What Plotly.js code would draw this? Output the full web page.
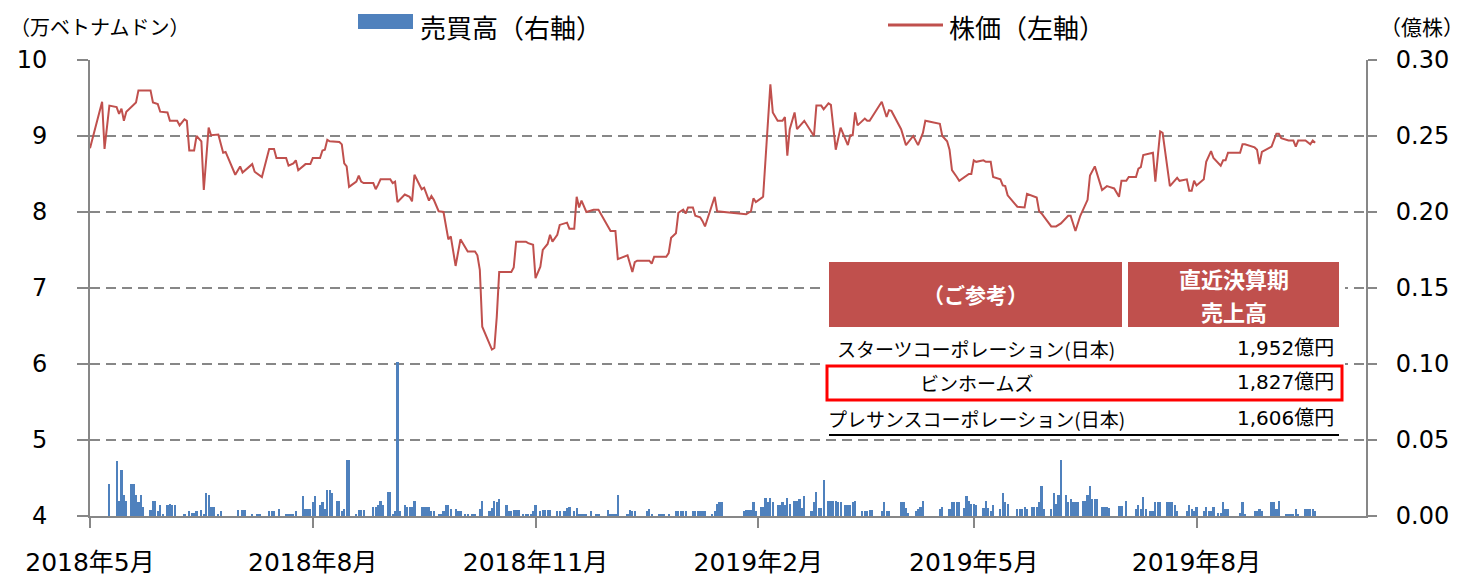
<!DOCTYPE html>
<html>
<head>
<meta charset="utf-8">
<script src="https://cdn.plot.ly/plotly-3.0.1.min.js"></script>
<style>
  html, body { margin: 0; padding: 0; background: #ffffff; }
  #chart { width: 1467px; height: 577px; }
</style>
</head>
<body>
<div id="chart"></div>
<script>
// ---- Price (left axis, 万ベトナムドン) ----
const priceDates = [
'2018-05-01','2018-05-06','2018-05-07','2018-05-09','2018-05-12','2018-05-13','2018-05-14','2018-05-15','2018-05-16','2018-05-19','2018-05-20','2018-05-21','2018-05-26','2018-05-27','2018-05-29','2018-05-30',
'2018-06-02','2018-06-03','2018-06-06','2018-06-07','2018-06-09','2018-06-10','2018-06-11','2018-06-13','2018-06-14','2018-06-16','2018-06-17','2018-06-19','2018-06-20','2018-06-23','2018-06-25','2018-06-26','2018-06-30',
'2018-07-02','2018-07-03','2018-07-07','2018-07-08','2018-07-11','2018-07-14','2018-07-16','2018-07-17','2018-07-21','2018-07-22','2018-07-24','2018-07-25','2018-07-26','2018-07-29','2018-07-31',
'2018-08-01','2018-08-04','2018-08-05','2018-08-06','2018-08-07','2018-08-08','2018-08-12','2018-08-13','2018-08-14','2018-08-15','2018-08-16','2018-08-19','2018-08-20','2018-08-21','2018-08-22','2018-08-26','2018-08-27','2018-08-28','2018-08-29',
'2018-09-02','2018-09-03','2018-09-04','2018-09-05','2018-09-08','2018-09-10','2018-09-11','2018-09-12','2018-09-15','2018-09-16','2018-09-18','2018-09-19','2018-09-20','2018-09-22','2018-09-24','2018-09-26','2018-09-27','2018-09-29',
'2018-10-01','2018-10-03','2018-10-04','2018-10-07','2018-10-08','2018-10-09','2018-10-10','2018-10-14','2018-10-15','2018-10-16','2018-10-17','2018-10-22','2018-10-23','2018-10-24','2018-10-28','2018-10-29','2018-10-31',
'2018-11-01','2018-11-03','2018-11-04','2018-11-06','2018-11-07','2018-11-08','2018-11-10','2018-11-11','2018-11-14','2018-11-15','2018-11-17','2018-11-18','2018-11-19','2018-11-20','2018-11-22','2018-11-25','2018-11-27',
'2018-12-02','2018-12-04','2018-12-05','2018-12-09','2018-12-11','2018-12-12','2018-12-13','2018-12-18','2018-12-19','2018-12-20','2018-12-25','2018-12-26','2018-12-27','2018-12-29','2018-12-30',
'2019-01-01','2019-01-02','2019-01-03','2019-01-05','2019-01-06','2019-01-08','2019-01-09','2019-01-10','2019-01-14','2019-01-15','2019-01-27','2019-01-29','2019-01-30','2019-01-31',
'2019-02-03','2019-02-06','2019-02-07','2019-02-09','2019-02-11','2019-02-12','2019-02-13','2019-02-14','2019-02-16','2019-02-17','2019-02-20','2019-02-24','2019-02-25','2019-02-27','2019-02-28',
'2019-03-02','2019-03-03','2019-03-05','2019-03-07','2019-03-10','2019-03-11','2019-03-12','2019-03-13','2019-03-14','2019-03-17','2019-03-18','2019-03-19','2019-03-24','2019-03-26','2019-03-27','2019-03-28',
'2019-04-01','2019-04-03','2019-04-06','2019-04-08','2019-04-10','2019-04-11','2019-04-17','2019-04-18','2019-04-20','2019-04-21','2019-04-22','2019-04-24','2019-04-25','2019-04-29','2019-04-30',
'2019-05-01','2019-05-02','2019-05-05','2019-05-06','2019-05-08','2019-05-09','2019-05-12','2019-05-13','2019-05-14','2019-05-15','2019-05-19','2019-05-22','2019-05-23','2019-05-25','2019-05-27','2019-05-28','2019-05-29',
'2019-06-02','2019-06-04','2019-06-06','2019-06-09','2019-06-10','2019-06-12','2019-06-14','2019-06-16','2019-06-17','2019-06-18','2019-06-20','2019-06-23','2019-06-25','2019-06-26','2019-06-28','2019-06-30',
'2019-07-01','2019-07-03','2019-07-04','2019-07-07','2019-07-08','2019-07-09','2019-07-10','2019-07-14','2019-07-15','2019-07-17','2019-07-18','2019-07-21','2019-07-23','2019-07-24','2019-07-25','2019-07-28','2019-07-29','2019-07-30','2019-07-31',
'2019-08-01','2019-08-04','2019-08-05','2019-08-07','2019-08-08','2019-08-11','2019-08-12','2019-08-13','2019-08-14','2019-08-19','2019-08-20','2019-08-21','2019-08-25','2019-08-26','2019-08-27','2019-08-28',
'2019-09-01','2019-09-03','2019-09-04','2019-09-05','2019-09-08','2019-09-10','2019-09-11','2019-09-12','2019-09-15','2019-09-17','2019-09-18','2019-09-19'
];
const priceValues = [
8.84,9.45,8.83,9.40,9.38,9.29,9.36,9.20,9.32,9.42,9.44,9.60,9.60,9.44,9.42,9.32,
9.31,9.20,9.20,9.14,9.22,9.20,8.81,8.81,9.00,8.93,8.29,9.11,9.01,9.02,8.78,8.79,8.49,
8.60,8.52,8.63,8.53,8.46,8.83,8.83,8.71,8.71,8.61,8.64,8.68,8.55,8.63,8.63,
8.71,8.71,8.81,8.82,8.95,8.93,8.92,8.89,8.64,8.60,8.33,8.40,8.48,8.40,8.38,8.38,8.30,8.36,8.43,
8.43,8.38,8.40,8.13,8.23,8.20,8.14,8.49,8.30,8.32,8.15,8.21,8.16,8.01,8.00,7.64,7.68,7.29,
7.64,7.52,7.48,7.48,7.43,7.24,6.49,6.19,6.21,6.62,7.21,7.21,7.27,7.61,7.61,7.59,7.57,
7.13,7.28,7.50,7.58,7.70,7.61,7.70,7.83,7.86,7.78,7.78,8.20,8.06,8.15,8.00,8.03,8.03,
7.75,7.75,7.38,7.43,7.21,7.34,7.36,7.36,7.32,7.41,7.41,7.46,7.66,7.72,7.99,
8.03,7.98,8.06,8.06,7.95,7.93,7.88,7.81,8.20,8.01,7.97,8.01,8.18,8.13,
8.20,9.68,9.31,9.20,9.20,9.25,8.74,9.09,9.31,9.09,9.20,9.00,9.40,9.40,9.35,
9.43,9.41,8.82,9.11,8.88,9.01,9.01,9.31,9.14,9.23,9.20,9.20,9.45,9.25,9.34,9.33,
9.09,8.88,9.00,8.88,9.04,9.20,9.16,9.00,8.93,8.82,8.55,8.46,8.41,8.50,8.50,
8.68,8.66,8.68,8.66,8.66,8.46,8.43,8.35,8.34,8.22,8.07,8.06,8.24,8.22,8.19,8.01,7.98,
7.81,7.81,7.85,7.95,7.95,7.75,7.95,8.09,8.16,8.48,8.60,8.29,8.34,8.33,8.31,8.20,
8.41,8.41,8.46,8.46,8.57,8.59,8.75,8.78,8.40,9.06,9.04,8.34,8.41,8.45,8.41,8.43,8.28,8.28,8.41,
8.35,8.43,8.66,8.80,8.71,8.61,8.68,8.68,8.78,8.78,8.89,8.89,8.85,8.82,8.63,8.79,
8.86,9.03,9.03,8.97,8.94,8.94,8.86,8.94,8.94,8.89,8.94,8.91
];

// ---- Trading volume (right axis, 億株) ----
const volDates = [
'2018-05-09','2018-05-12','2018-05-13','2018-05-14','2018-05-15','2018-05-16','2018-05-18','2018-05-19','2018-05-20','2018-05-21','2018-05-22','2018-05-23','2018-05-26','2018-05-27','2018-05-28','2018-05-29','2018-05-30','2018-05-31',
'2018-06-02','2018-06-03','2018-06-04','2018-06-05','2018-06-09','2018-06-11','2018-06-12','2018-06-13','2018-06-14','2018-06-16','2018-06-17','2018-06-18','2018-06-19','2018-06-20','2018-06-21','2018-06-23','2018-06-24',
'2018-07-01','2018-07-03','2018-07-04','2018-07-07','2018-07-09','2018-07-10','2018-07-14','2018-07-15','2018-07-16','2018-07-18','2018-07-21','2018-07-22','2018-07-23','2018-07-24','2018-07-25','2018-07-28','2018-07-29','2018-07-30','2018-07-31',
'2018-08-01','2018-08-02','2018-08-04','2018-08-05','2018-08-06','2018-08-07','2018-08-08','2018-08-09','2018-08-11','2018-08-12','2018-08-13','2018-08-14','2018-08-15','2018-08-16','2018-08-19','2018-08-20','2018-08-21','2018-08-22','2018-08-26','2018-08-27','2018-08-28','2018-08-29','2018-08-30',
'2018-09-01','2018-09-02','2018-09-03','2018-09-04','2018-09-05','2018-09-06','2018-09-08','2018-09-09','2018-09-10','2018-09-11','2018-09-12','2018-09-15','2018-09-16','2018-09-17','2018-09-18','2018-09-19','2018-09-20','2018-09-22','2018-09-23','2018-09-24','2018-09-25','2018-09-26','2018-09-27','2018-09-29','2018-09-30',
'2018-10-01','2018-10-03','2018-10-04','2018-10-06','2018-10-07','2018-10-09','2018-10-10','2018-10-13','2018-10-14','2018-10-15','2018-10-16','2018-10-17','2018-10-20','2018-10-21','2018-10-22','2018-10-23','2018-10-24','2018-10-25','2018-10-27','2018-10-28','2018-10-29','2018-10-30','2018-10-31',
'2018-11-01','2018-11-03','2018-11-04','2018-11-05','2018-11-06','2018-11-07','2018-11-10','2018-11-11','2018-11-13','2018-11-14','2018-11-15','2018-11-17','2018-11-18','2018-11-19','2018-11-20','2018-11-21','2018-11-22','2018-11-24','2018-11-26','2018-11-27',
'2018-12-01','2018-12-02','2018-12-03','2018-12-04','2018-12-05','2018-12-09','2018-12-10','2018-12-11','2018-12-12','2018-12-17','2018-12-18','2018-12-19','2018-12-22','2018-12-23','2018-12-24','2018-12-26','2018-12-29','2018-12-30','2018-12-31',
'2019-01-01','2019-01-02','2019-01-05','2019-01-06','2019-01-07','2019-01-08','2019-01-09','2019-01-10','2019-01-13','2019-01-14','2019-01-15','2019-01-16','2019-01-17','2019-01-26','2019-01-27','2019-01-28','2019-01-29','2019-01-30','2019-01-31',
'2019-02-02','2019-02-03','2019-02-04','2019-02-05','2019-02-06','2019-02-07','2019-02-09','2019-02-10','2019-02-11','2019-02-12','2019-02-13','2019-02-14','2019-02-16','2019-02-17','2019-02-18','2019-02-19','2019-02-20','2019-02-23','2019-02-24','2019-02-25','2019-02-26','2019-02-27','2019-02-28',
'2019-03-02','2019-03-03','2019-03-04','2019-03-05','2019-03-06','2019-03-07','2019-03-09','2019-03-10','2019-03-11','2019-03-12','2019-03-13','2019-03-16','2019-03-17','2019-03-18','2019-03-19','2019-03-20','2019-03-24','2019-03-25','2019-03-26','2019-03-27',
'2019-04-01','2019-04-02','2019-04-03','2019-04-04','2019-04-07','2019-04-08','2019-04-09','2019-04-10','2019-04-17','2019-04-18','2019-04-21','2019-04-22','2019-04-23','2019-04-24','2019-04-25','2019-04-27','2019-04-28','2019-04-29','2019-04-30',
'2019-05-01','2019-05-02','2019-05-05','2019-05-06','2019-05-07','2019-05-08','2019-05-09','2019-05-12','2019-05-13','2019-05-14','2019-05-15','2019-05-19','2019-05-20','2019-05-21','2019-05-22','2019-05-23','2019-05-25','2019-05-26','2019-05-27','2019-05-28','2019-05-29','2019-05-30',
'2019-06-02','2019-06-03','2019-06-04','2019-06-05','2019-06-06','2019-06-08','2019-06-09','2019-06-10','2019-06-11','2019-06-12','2019-06-13','2019-06-15','2019-06-16','2019-06-17','2019-06-18','2019-06-19','2019-06-20','2019-06-21','2019-06-23','2019-06-24','2019-06-25','2019-06-26','2019-06-30',
'2019-07-01','2019-07-03','2019-07-07','2019-07-08','2019-07-09','2019-07-10','2019-07-11','2019-07-13','2019-07-14','2019-07-15','2019-07-16','2019-07-17','2019-07-20','2019-07-21','2019-07-22','2019-07-23','2019-07-24','2019-07-28','2019-07-29','2019-07-30','2019-07-31',
'2019-08-01','2019-08-04','2019-08-05','2019-08-06','2019-08-07','2019-08-08','2019-08-10','2019-08-11','2019-08-12','2019-08-13','2019-08-14','2019-08-19','2019-08-20','2019-08-21','2019-08-25','2019-08-26','2019-08-27','2019-08-28',
'2019-09-01','2019-09-02','2019-09-03','2019-09-04','2019-09-07','2019-09-08','2019-09-09','2019-09-10','2019-09-11','2019-09-12','2019-09-15','2019-09-16','2019-09-17','2019-09-18','2019-09-19'
];
const volValues = [
0.021,0.036,0.010,0.030,0.014,0.010,0.021,0.021,0.014,0.009,0.014,0.006,0.004,0.010,0.010,0.003,0.007,0.0015,
0.007,0.008,0.007,0.007,0.0015,0.003,0.002,0.002,0.003,0.004,0.0015,0.015,0.014,0.006,0.006,0.0015,0.003,
0.004,0.004,0.004,0.0015,0.0015,0.0015,0.003,0.003,0.0033,0.0044,0.0015,0.0015,0.0015,0.0015,0.003,0.013,0.0044,0.0044,0.0044,
0.009,0.013,0.007,0.009,0.0044,0.017,0.017,0.015,0.010,0.010,0.0033,0.0044,0.037,0.037,0.0015,0.0037,0.0037,0.0037,0.006,0.006,0.007,0.010,0.007,
0.016,0.016,0.0015,0.0033,0.101,0.0033,0.007,0.006,0.006,0.006,0.010,0.006,0.006,0.006,0.006,0.0033,0.0033,0.0015,0.0015,0.0033,0.007,0.007,0.0044,0.0044,0.003,
0.003,0.0015,0.0015,0.0015,0.0015,0.0044,0.010,0.0033,0.0055,0.010,0.009,0.011,0.007,0.003,0.003,0.004,0.004,0.004,0.0015,0.0015,0.0015,0.0015,0.0033,
0.007,0.0033,0.004,0.004,0.004,0.004,0.003,0.003,0.0035,0.0055,0.006,0.003,0.0055,0.0015,0.0015,0.0015,0.0015,0.003,0.0015,0.0015,
0.004,0.0015,0.0015,0.0015,0.014,0.0015,0.004,0.003,0.0033,0.003,0.0044,0.0015,0.0015,0.0015,0.0015,0.0015,0.003,0.003,0.003,
0.003,0.003,0.003,0.003,0.003,0.003,0.003,0.003,0.0015,0.003,0.008,0.009,0.009,0.003,0.004,0.004,0.004,0.009,0.0033,
0.006,0.006,0.012,0.009,0.012,0.009,0.007,0.007,0.0094,0.007,0.012,0.008,0.010,0.010,0.011,0.0055,0.013,0.0033,0.009,0.016,0.0055,0.0055,0.024,
0.010,0.010,0.010,0.010,0.009,0.009,0.007,0.007,0.007,0.009,0.010,0.003,0.003,0.003,0.004,0.004,0.003,0.009,0.003,0.003,
0.009,0.009,0.0055,0.002,0.003,0.0044,0.006,0.010,0.0044,0.006,0.0044,0.009,0.009,0.009,0.009,0.0055,0.013,0.010,0.008,
0.008,0.007,0.0055,0.010,0.0055,0.003,0.007,0.0044,0.015,0.009,0.008,0.0044,0.0044,0.0044,0.006,0.0044,0.006,0.006,0.006,0.009,0.020,0.0044,
0.0044,0.015,0.008,0.014,0.037,0.014,0.009,0.011,0.009,0.009,0.009,0.010,0.010,0.014,0.020,0.011,0.011,0.011,0.006,0.006,0.006,0.005,0.0066,
0.0066,0.010,0.0044,0.007,0.0044,0.0127,0.0044,0.003,0.003,0.009,0.009,0.009,0.009,0.009,0.009,0.007,0.003,0.003,0.007,0.0044,0.003,
0.006,0.003,0.006,0.003,0.003,0.006,0.002,0.002,0.009,0.0044,0.0044,0.002,0.009,0.001,0.003,0.003,0.0044,0.003,
0.009,0.009,0.0044,0.010,0.0015,0.0015,0.0015,0.0015,0.0044,0.0015,0.0044,0.0044,0.0044,0.0044,0.003
];

// ---- Axis ticks ----
const tickDates  = ['2018-05-01','2018-08-01','2018-11-01','2019-02-01','2019-05-01','2019-08-01'];
const tickLabels = ['2018年5月','2018年8月','2018年11月','2019年2月','2019年5月','2019年8月'];

// ---- Reference table ----
const tableHeader = ['（ご参考）', '直近決算期', '売上高'];
const tableNames  = ['スターツコーポレーション(日本)', 'ビンホームズ', 'プレサンスコーポレーション(日本)'];
const tableSales  = ['1,952億円', '1,827億円', '1,606億円'];

const seriesNames = ['売買高（右軸）', '株価（左軸）'];

const GRAY = '#878787';
const RED = '#C0504D';
const BLUE = '#4F81BD';
const NUMFONT = 'DejaVu Sans, "Noto Sans CJK JP", sans-serif';
const JPFONT = '"Noto Sans CJK JP", sans-serif';

const traces = [
  {
    type: 'bar', name: seriesNames[0], x: volDates, y: volValues, yaxis: 'y2',
    marker: { color: BLUE, line: { width: 0 } },
    width: 86400000 * 0.9, hoverinfo: 'skip'
  },
  {
    type: 'scatter', mode: 'lines', name: seriesNames[1], x: priceDates, y: priceValues,
    line: { color: RED, width: 2 }, hoverinfo: 'skip'
  }
];

// paper-coordinate helpers for overlay layout (plot area: x 90..1366, y 60..516)
const PX0 = 90, PX1 = 1366, PY0 = 60, PY1 = 516;
const px = v => (v - PX0) / (PX1 - PX0);
const py = v => (PY1 - v) / (PY1 - PY0);

const shapes = [
  { type: 'rect', xref: 'paper', yref: 'paper', x0: px(826), x1: px(1345), y0: py(436), y1: py(262), fillcolor: '#ffffff', line: { width: 0 }, layer: 'above' },
  { type: 'rect', xref: 'paper', yref: 'paper', x0: px(829), x1: px(1122), y0: py(327), y1: py(262), fillcolor: RED, line: { width: 0 }, layer: 'above' },
  { type: 'rect', xref: 'paper', yref: 'paper', x0: px(1128), x1: px(1339), y0: py(327), y1: py(262), fillcolor: RED, line: { width: 0 }, layer: 'above' },
  { type: 'rect', xref: 'paper', yref: 'paper', x0: px(827), x1: px(1342), y0: py(400), y1: py(366), fillcolor: 'rgba(0,0,0,0)', line: { color: '#FF0000', width: 3 }, layer: 'above' },
  { type: 'line', xref: 'paper', yref: 'paper', x0: px(829), x1: px(1339), y0: py(435), y1: py(435), line: { color: '#000000', width: 2 }, layer: 'above' },
  { type: 'rect', xref: 'paper', yref: 'paper', x0: px(358), x1: px(413), y0: py(29), y1: py(14), fillcolor: BLUE, line: { width: 0 } },
  { type: 'line', xref: 'paper', yref: 'paper', x0: px(888), x1: px(943), y0: py(25), y1: py(25), line: { color: RED, width: 3 } }
];

const annotations = [
  { xref: 'paper', yref: 'paper', x: px(8), y: py(26), xanchor: 'left', yanchor: 'middle', text: '（万ベトナムドン）', showarrow: false, font: { family: JPFONT, size: 20, color: '#000' } },
  { xref: 'paper', yref: 'paper', x: px(1466), y: py(26), xanchor: 'right', yanchor: 'middle', text: '（億株）', showarrow: false, font: { family: JPFONT, size: 21, color: '#000' } },
  { xref: 'paper', yref: 'paper', x: px(418), y: py(26), xanchor: 'left', yanchor: 'middle', text: seriesNames[0], showarrow: false, font: { family: JPFONT, size: 26, color: '#000' } },
  { xref: 'paper', yref: 'paper', x: px(947), y: py(26), xanchor: 'left', yanchor: 'middle', text: seriesNames[1], showarrow: false, font: { family: JPFONT, size: 26, color: '#000' } },
  { xref: 'paper', yref: 'paper', x: px(975), y: py(294), xanchor: 'center', yanchor: 'middle', text: '<b>' + tableHeader[0] + '</b>', showarrow: false, font: { family: JPFONT, size: 21, color: '#fff' } },
  { xref: 'paper', yref: 'paper', x: px(1234), y: py(278), xanchor: 'center', yanchor: 'middle', text: '<b>' + tableHeader[1] + '</b>', showarrow: false, font: { family: JPFONT, size: 22, color: '#fff' } },
  { xref: 'paper', yref: 'paper', x: px(1234), y: py(311), xanchor: 'center', yanchor: 'middle', text: '<b>' + tableHeader[2] + '</b>', showarrow: false, font: { family: JPFONT, size: 22, color: '#fff' } }
];
const rowY = [348, 382, 418];
for (let i = 0; i < tableNames.length; i++) {
  annotations.push({ xref: 'paper', yref: 'paper', x: px(976), y: py(rowY[i]), xanchor: 'center', yanchor: 'middle', text: tableNames[i], showarrow: false, font: { family: JPFONT, size: 19, color: '#000' } });
  annotations.push({ xref: 'paper', yref: 'paper', x: px(1336), y: py(rowY[i]), xanchor: 'right', yanchor: 'middle', text: tableSales[i], showarrow: false, font: { family: NUMFONT, size: 20, color: '#000' } });
}

const layout = {
  width: 1467, height: 577, autosize: false,
  margin: { l: PX0, r: 1467 - PX1, t: PY0, b: 577 - PY1, pad: 0 },
  paper_bgcolor: '#ffffff', plot_bgcolor: '#ffffff',
  showlegend: false,
  bargap: 0,
  font: { family: NUMFONT, size: 24, color: '#000' },
  xaxis: {
    type: 'date',
    range: ['2018-05-01', '2019-10-10'],
    tickmode: 'array', tickvals: tickDates, ticktext: tickLabels,
    ticks: 'outside', ticklen: 10, tickwidth: 2, tickcolor: GRAY,
    showline: true, linecolor: GRAY, linewidth: 2,
    showgrid: false, zeroline: false,
    tickfont: { family: NUMFONT, size: 25, color: '#000' },
    ticklabelstandoff: 13
  },
  yaxis: {
    range: [4, 10], dtick: 1, tick0: 4,
    ticks: 'outside', ticklen: 11, tickwidth: 2, tickcolor: GRAY,
    showline: true, linecolor: GRAY, linewidth: 2,
    showgrid: true, gridcolor: GRAY, gridwidth: 2, griddash: '10px,6px',
    zeroline: false,
    tickfont: { family: NUMFONT, size: 24, color: '#000' },
    ticklabelstandoff: 25
  },
  yaxis2: {
    overlaying: 'y', side: 'right',
    range: [0, 0.30], dtick: 0.05, tick0: 0, tickformat: '.2f',
    ticks: 'outside', ticklen: 9, tickwidth: 2, tickcolor: GRAY,
    showline: true, linecolor: GRAY, linewidth: 2,
    showgrid: false, zeroline: false,
    tickfont: { family: NUMFONT, size: 24, color: '#000' },
    ticklabelstandoff: 14
  },
  shapes: shapes,
  annotations: annotations
};

Plotly.newPlot('chart', traces, layout, { staticPlot: true, displayModeBar: false });
</script>
</body>
</html>
